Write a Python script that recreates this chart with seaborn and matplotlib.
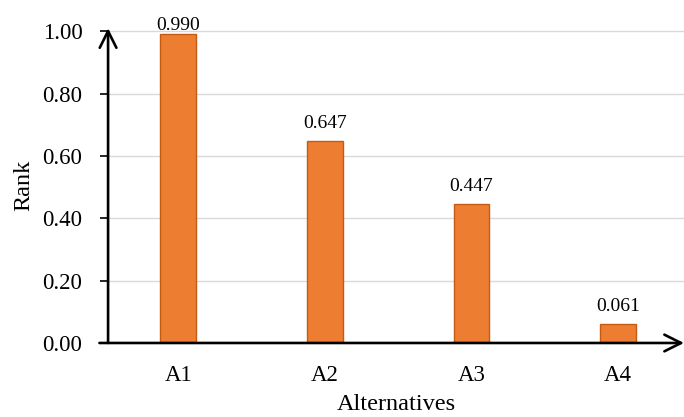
import matplotlib
matplotlib.use("Agg")
import matplotlib.pyplot as plt
import seaborn as sns
import pandas as pd

alternatives = ["A1", "A2", "A3", "A4"]
ranks = [0.990, 0.647, 0.447, 0.061]
value_labels = ["0.990", "0.647", "0.447", "0.061"]
y_ticks = [0.0, 0.2, 0.4, 0.6, 0.8, 1.0]

df = pd.DataFrame({"Alternatives": alternatives, "Rank": ranks})

sns.set_style("white")
plt.rcParams["font.family"] = ["Liberation Serif", "DejaVu Serif"]
plt.rcParams["text.color"] = "black"
plt.rcParams["axes.labelcolor"] = "black"
plt.rcParams["xtick.color"] = "black"
plt.rcParams["ytick.color"] = "black"

fig = plt.figure(figsize=(6.84, 4.17), dpi=100)
ax = fig.add_axes([0.158, 0.1775, 0.842, 0.755])

sns.barplot(data=df, x="Alternatives", y="Rank", color="#ED7D31",
            saturation=1, width=0.245, edgecolor="#C55A11", linewidth=1,
            ax=ax, zorder=3)

# labels sit above the bars but stay inside the plot area
for i, (v, lab) in enumerate(zip(ranks, value_labels)):
    off = 6.5 if v < 0.9 else 0
    ax.annotate(lab, (i, v), xytext=(0, off), textcoords="offset points",
                ha="center", va="bottom", fontsize=14, annotation_clip=False)

ax.set_xlim(-0.48, 3.45)
ax.set_ylim(0, 1.01)
ax.set_yticks(y_ticks)
ax.set_yticklabels([f"{t:.2f}" for t in y_ticks])
ax.yaxis.grid(True, color="#d9d9d9", linewidth=1, zorder=0)
ax.set_axisbelow(True)

for s in ax.spines.values():
    s.set_visible(False)

ax.tick_params(axis="y", which="both", left=True, length=5.5, width=1.2,
               labelsize=16.5, pad=13)
ax.tick_params(axis="x", bottom=False, labelsize=16.5, pad=12)

# axis arrows
arrow = dict(arrowstyle="->,head_length=1.2,head_width=0.6",
             color="black", lw=1.9, shrinkA=0, shrinkB=0)
ax.annotate("", xy=(0, 1.0), xytext=(0, 0), xycoords="axes fraction",
            arrowprops=arrow, annotation_clip=False)
ax.annotate("", xy=(1.0, 0), xytext=(-0.015, 0), xycoords="axes fraction",
            arrowprops=arrow, annotation_clip=False)

ax.set_xlabel("Alternatives", fontsize=17.5, labelpad=6)
ax.set_ylabel("Rank", fontsize=17.5, labelpad=6)

fig.savefig("out.png", dpi=100)
